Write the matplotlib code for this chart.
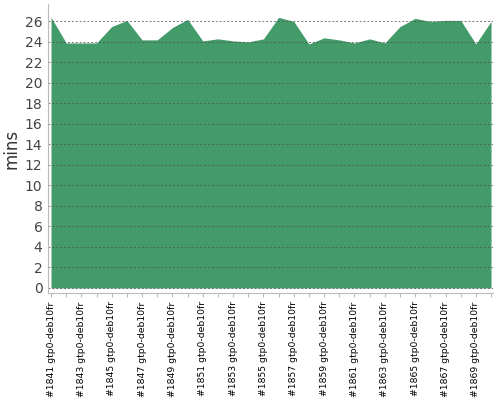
import numpy as np
import matplotlib.pyplot as plt

# build numbers and durations (mins)
builds = list(range(1841, 1871))
mins = [26.4, 23.9, 23.9, 23.9, 25.5, 26.1, 24.2, 24.2, 25.4, 26.2,
        24.1, 24.3, 24.1, 24.0, 24.3, 26.4, 26.0, 23.8, 24.4, 24.2,
        23.9, 24.3, 23.9, 25.5, 26.3, 26.0, 26.1, 26.1, 23.8, 26.0]
labels = ["#%d gtp0-deb10fr" % b for b in builds]
yticks = list(range(0, 27, 2))

fig = plt.figure(figsize=(5, 4), dpi=100)
ax = fig.add_axes([0.096, 0.2675, 0.89, 0.7225])

x = np.arange(len(mins))
ax.fill_between(x, 0, mins, color='#439b6a', linewidth=0, zorder=1)

ax.set_xlim(-0.2, len(mins) - 0.87)
ax.set_ylim(-0.5, 27.7)

ax.set_yticks(yticks)
ax.set_yticklabels([str(t) for t in yticks], fontsize=10, color='#444444')
ax.tick_params(axis='y', length=0, pad=4)

ax.set_xticks(x)
ax.set_xticklabels([l if i % 2 == 0 else '' for i, l in enumerate(labels)],
                   rotation=90, fontsize=6.7, color='black')
ax.tick_params(axis='x', length=3, color='#bbbbbb', pad=3)

for t in yticks:
    ax.axhline(t, color='#555555', linestyle=(0, (2, 2)), linewidth=0.7,
               alpha=0.8, zorder=2)

for s in ['top', 'right']:
    ax.spines[s].set_visible(False)
ax.spines['left'].set_color('#bbbbbb')
ax.spines['bottom'].set_color('#bbbbbb')

ax.set_ylabel('mins', fontsize=12, color='#333333', labelpad=3)

fig.savefig('out.png', dpi=100)
